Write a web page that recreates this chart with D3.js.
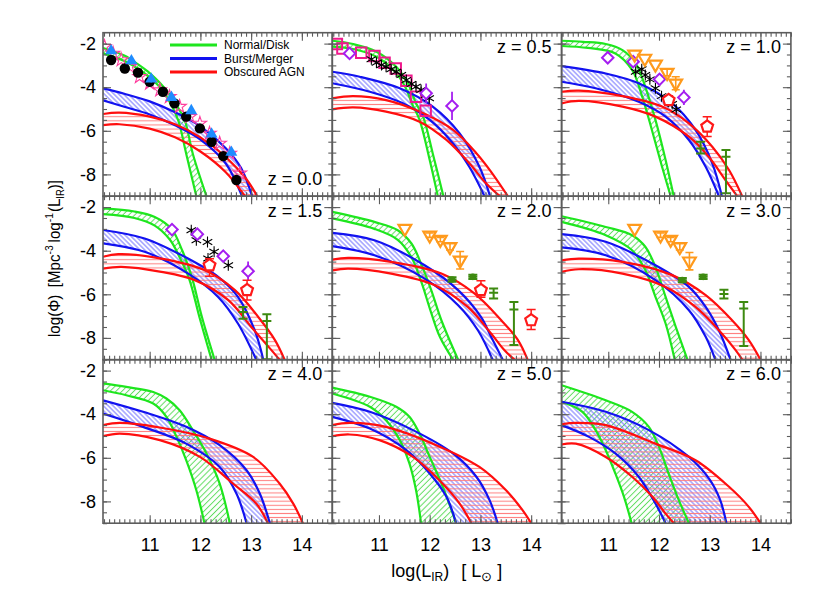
<!DOCTYPE html>
<html>
<head>
<meta charset="utf-8">
<script src="https://cdn.jsdelivr.net/npm/d3@7"></script>
<style>
  html, body { margin: 0; padding: 0; background: #fff; }
  svg { display: block; font-family: "Liberation Sans", Arial, Helvetica, sans-serif; }
</style>
</head>
<body>
<svg id="chart" width="822" height="590"></svg>
<script>
// - - - - - - - - - -
// data: [log L_IR, log Phi]
// - - - - - - - - - -
const zLabels = ['z = 0.0', 'z = 0.5', 'z = 1.0', 'z = 1.5', 'z = 2.0', 'z = 3.0', 'z = 4.0', 'z = 5.0', 'z = 6.0'];
const xTicks = [11, 12, 13, 14];
const yTicks = [-2, -4, -6, -8];
const legendNames = ['Normal/Disk', 'Burst/Merger', 'Obscured AGN'];

const diskHi = [
  [[10.08,-2.2],[10.5,-2.55],[10.8,-3.0],[11,-3.35],[11.2,-3.8],[11.4,-4.35],[11.55,-4.9],[11.69,-5.5],[11.85,-7.05],[12.12,-9]],
  [[10.08,-1.87],[10.49,-2.02],[10.95,-2.37],[11.34,-3.06],[11.57,-3.82],[11.73,-4.74],[11.87,-5.35],[12.06,-7.04],[12.27,-9]],
  [[10.08,-1.87],[10.5,-1.92],[10.95,-2.02],[11.28,-2.3],[11.54,-2.91],[11.73,-3.98],[11.93,-5.5],[12.13,-7.34],[12.29,-9]],
  [[10.08,-2.06],[10.7,-2.2],[11.1,-2.45],[11.43,-3.0],[11.64,-3.98],[11.83,-5.2],[12.03,-7.04],[12.28,-9]],
  [[10.08,-2.22],[10.91,-2.68],[11.37,-3.06],[11.64,-3.67],[11.83,-4.59],[12.03,-5.81],[12.23,-7.19],[12.56,-9]],
  [[10.08,-2.42],[10.95,-2.91],[11.47,-3.29],[11.73,-3.82],[11.93,-4.74],[12.13,-6.12],[12.33,-7.49],[12.56,-9]],
  [[10.08,-2.59],[10.54,-2.75],[11.07,-2.98],[11.33,-3.28],[11.59,-3.82],[11.85,-4.73],[12.12,-5.8],[12.38,-7.18],[12.58,-9]],
  [[10.08,-2.78],[10.82,-3.2],[11.34,-3.66],[11.6,-4.12],[11.8,-4.89],[12.0,-5.96],[12.26,-7.33],[12.52,-9]],
  [[10.08,-2.67],[10.95,-3.36],[11.47,-3.89],[11.8,-4.58],[12.0,-5.5],[12.19,-6.72],[12.39,-7.94],[12.59,-9]]
];
const diskLo = [
  [[10.08,-2.45],[10.5,-2.8],[10.8,-3.2],[11,-3.55],[11.2,-4.0],[11.4,-4.7],[11.56,-5.5],[11.72,-7.05],[11.92,-9]],
  [[10.08,-2.14],[10.49,-2.25],[10.95,-2.6],[11.3,-3.25],[11.52,-4.0],[11.66,-4.8],[11.8,-5.5],[12.0,-7.34],[12.16,-9]],
  [[10.08,-2.11],[10.6,-2.2],[11.14,-2.45],[11.47,-3.21],[11.67,-4.44],[11.86,-5.96],[12.06,-7.65],[12.23,-9]],
  [[10.08,-2.32],[10.7,-2.5],[11.1,-2.85],[11.4,-3.5],[11.6,-4.35],[11.78,-5.3],[11.98,-7.04],[12.22,-9]],
  [[10.08,-2.52],[10.91,-3.0],[11.37,-3.5],[11.64,-4.3],[11.83,-5.4],[12.03,-6.85],[12.2,-7.95],[12.46,-9]],
  [[10.08,-2.68],[10.95,-3.29],[11.47,-3.98],[11.73,-4.89],[11.93,-6.12],[12.13,-7.34],[12.31,-9]],
  [[10.08,-2.9],[10.54,-3.13],[11.07,-3.51],[11.33,-4.12],[11.53,-5.04],[11.72,-6.11],[11.92,-7.49],[12.08,-9]],
  [[10.08,-3.05],[10.82,-3.66],[11.14,-4.28],[11.41,-5.19],[11.6,-6.26],[11.73,-7.48],[11.83,-9]],
  [[10.08,-3.43],[10.49,-3.89],[10.75,-4.73],[10.95,-5.65],[11.14,-6.72],[11.31,-7.79],[11.46,-9]]
];

const burstHi = [
  [[10.08,-4.05],[10.5,-4.3],[11,-4.65],[11.5,-5.15],[12,-5.8],[12.5,-6.8],[12.8,-7.7],[13.02,-9]],
  [[10.08,-3.29],[10.62,-3.52],[11.41,-4.05],[12.06,-4.89],[12.59,-6.12],[12.98,-7.65],[13.19,-9]],
  [[10.08,-3.03],[10.95,-3.37],[11.6,-3.82],[12.26,-4.74],[12.72,-5.96],[13.05,-7.49],[13.24,-9]],
  [[10.08,-3.05],[10.9,-3.44],[11.69,-4.28],[12.35,-5.2],[12.74,-6.12],[13.07,-7.65],[13.24,-9]],
  [[10.08,-3.18],[10.91,-3.52],[11.9,-4.67],[12.56,-5.81],[13.01,-7.04],[13.21,-7.95],[13.44,-9]],
  [[10.08,-3.24],[10.95,-3.59],[11.93,-4.67],[12.59,-5.66],[12.92,-6.58],[13.18,-7.65],[13.41,-9]],
  [[10.08,-3.36],[10.87,-3.89],[11.72,-4.58],[12.38,-5.42],[12.91,-6.57],[13.17,-7.64],[13.37,-9]],
  [[10.08,-3.48],[10.82,-3.89],[11.67,-4.73],[12.46,-5.8],[12.92,-6.87],[13.18,-7.94],[13.34,-9]],
  [[10.08,-3.43],[10.95,-3.89],[11.8,-4.73],[12.59,-5.96],[13.0,-7.0],[13.2,-7.9],[13.33,-9]]
];
const burstLo = [
  [[10.08,-4.6],[10.5,-4.9],[11,-5.25],[11.5,-5.75],[12,-6.4],[12.5,-7.5],[12.82,-9]],
  [[10.08,-3.82],[10.82,-4.21],[11.47,-4.74],[12.0,-5.5],[12.46,-6.58],[12.78,-7.65],[13.08,-9]],
  [[10.08,-3.75],[10.75,-4.05],[11.6,-4.67],[12.13,-5.35],[12.59,-6.42],[12.92,-7.65],[13.18,-9]],
  [[10.08,-3.66],[10.9,-4.05],[11.76,-5.05],[12.35,-6.12],[12.74,-7.34],[13.1,-9]],
  [[10.08,-3.79],[10.91,-4.21],[11.9,-5.28],[12.56,-6.5],[12.95,-7.65],[13.24,-9]],
  [[10.08,-3.85],[10.95,-4.21],[11.93,-5.35],[12.59,-6.73],[12.92,-7.95],[13.11,-9]],
  [[10.08,-3.97],[10.87,-4.58],[11.72,-5.35],[12.38,-6.42],[12.71,-7.64],[12.91,-9]],
  [[10.08,-4.12],[10.82,-4.66],[11.54,-5.65],[12.0,-6.72],[12.33,-7.79],[12.52,-9]],
  [[10.08,-4.5],[10.62,-5.04],[11.14,-5.8],[11.6,-6.87],[11.93,-8.1],[12.13,-9]]
];

const agnHi = [
  [[10.08,-5.23],[10.4,-5.17],[11,-5.35],[11.5,-5.7],[12,-6.3],[12.5,-7.2],[12.9,-8.2],[13.12,-9]],
  [[10.08,-4.51],[10.49,-4.41],[11.14,-4.59],[11.8,-5.12],[12.46,-5.96],[12.92,-7.03],[13.2,-7.85],[13.54,-9]],
  [[10.08,-4.21],[10.42,-4.16],[11.28,-4.41],[12.06,-4.89],[12.59,-5.66],[13.05,-6.73],[13.38,-7.8],[13.64,-9]],
  [[10.08,-4.28],[10.38,-4.16],[11.23,-4.36],[12.08,-4.89],[12.68,-5.81],[13.14,-7.04],[13.47,-8.1],[13.66,-9]],
  [[10.08,-4.41],[10.39,-4.33],[11.24,-4.51],[12.23,-5.05],[12.88,-5.96],[13.41,-7.19],[13.74,-8.1],[13.93,-9]],
  [[10.08,-4.44],[10.42,-4.36],[11.28,-4.51],[12.26,-5.12],[12.92,-6.04],[13.44,-7.19],[13.77,-8.1],[14.0,-9]],
  [[10.08,-4.5],[10.41,-4.4],[11.2,-4.61],[12.18,-5.12],[13.04,-5.96],[13.56,-7.18],[13.83,-8.1],[14.02,-9]],
  [[10.08,-4.5],[10.42,-4.4],[11.14,-4.58],[12.13,-5.42],[12.98,-6.42],[13.5,-7.48],[13.83,-8.4],[14.0,-9]],
  [[10.08,-4.46],[10.36,-4.4],[10.95,-4.5],[11.93,-5.35],[12.72,-6.11],[13.38,-7.33],[13.77,-8.25],[14.0,-9]]
];
const agnLo = [
  [[10.08,-5.74],[10.4,-5.7],[11,-5.9],[11.5,-6.3],[12,-6.95],[12.5,-7.9],[12.88,-9]],
  [[10.08,-5.02],[10.49,-4.93],[11.14,-5.12],[11.8,-5.58],[12.33,-6.42],[12.78,-7.49],[13.11,-8.41],[13.38,-9]],
  [[10.08,-4.74],[10.42,-4.63],[11.28,-4.89],[11.93,-5.35],[12.59,-6.27],[12.98,-7.19],[13.31,-8.26],[13.54,-9]],
  [[10.08,-4.82],[10.44,-4.74],[11.23,-4.97],[11.89,-5.35],[12.55,-6.27],[13.0,-7.49],[13.4,-8.56],[13.56,-9]],
  [[10.08,-4.9],[10.39,-4.82],[11.24,-5.05],[12.1,-5.58],[12.75,-6.58],[13.21,-7.8],[13.47,-8.56],[13.67,-9]],
  [[10.08,-4.97],[10.42,-4.85],[11.28,-5.05],[12.13,-5.66],[12.72,-6.58],[13.18,-7.65],[13.51,-8.56],[13.64,-9]],
  [[10.08,-5.01],[10.41,-4.89],[11.2,-5.19],[11.99,-5.96],[12.64,-7.18],[13.1,-8.1],[13.33,-9]],
  [[10.08,-5.01],[10.42,-4.93],[11.01,-5.19],[11.67,-5.96],[12.19,-7.03],[12.59,-8.1],[12.82,-9]],
  [[10.08,-5.39],[10.36,-5.35],[10.95,-5.96],[11.47,-6.87],[11.87,-7.79],[12.13,-8.56],[12.29,-9]]
];

// observed points
const circlesZ0 = [[10.24,-2.75],[10.51,-3.14],[10.77,-3.33],[11.0,-3.75],[11.26,-4.21],[11.49,-4.74],
  [11.72,-5.35],[11.99,-5.89],[12.22,-6.5],[12.45,-7.16],[12.71,-8.26]];
const trianglesZ0 = [[10.24,-2.37],[10.64,-2.83],[11.03,-3.67],[11.43,-4.51],[11.82,-5.12],[12.22,-6.19],[12.61,-7.03]];
const starsZ0 = [[10.11,-2.14],[10.28,-2.45],[10.44,-2.75],[10.61,-3.06],[10.8,-3.52],[11.0,-3.82],[11.2,-4.13],
  [11.39,-4.44],[11.59,-4.89],[11.79,-5.35],[11.99,-5.66],[12.18,-6.12],[12.38,-6.58],[12.58,-7.04],[12.78,-7.95]];
const squaresZ05 = [[10.17,-2.02],[10.28,-2.22],[10.65,-2.42],[10.91,-2.57],[11.11,-2.88],[11.33,-3.14],
  [11.54,-3.7],[11.73,-4.44],[11.92,-5.08]];
// [panel, logL, logPhi, error]
const asteriskPts = [
  [1,10.85,-2.72,0.1],[1,10.95,-2.88,0.1],[1,11.05,-2.98,0.1],[1,11.14,-3.06,0.1],[1,11.24,-3.18,0.1],
  [1,11.34,-3.29,0.1],[1,11.44,-3.44,0.1],[1,11.54,-3.67,0.12],[1,11.64,-3.85,0.12],[1,11.73,-3.98,0.12],
  [1,11.83,-4.13,0.15],[1,11.92,-4.36,0.2],[1,11.99,-4.51,0.2],
  [2,11.54,-3.29,0.12],[2,11.66,-3.18,0.12],[2,11.73,-3.44,0.12],[2,11.82,-3.64,0.12],[2,11.93,-4.05,0.12],
  [2,12.05,-4.41,0.12],[2,12.19,-4.67,0.12],[2,12.26,-4.77,0.12],[2,12.34,-5.02,0.12],
  [3,11.82,-3.06,0.1],[3,11.92,-3.52,0.1],[3,12.14,-3.6,0.1],[3,12.27,-4.05,0.1],[3,12.15,-4.36,0.1],[3,12.55,-4.67,0.1]
];
const diamondPts = [
  [1,10.42,-2.45,0.2],[1,11.93,-4.28,0.45],[1,12.44,-4.86,0.65],
  [2,10.99,-2.65,0.2],[2,11.49,-2.83,0.15],[2,12.01,-3.64,0.2],[2,12.49,-4.47,0.35],
  [3,11.44,-3.03,0.25],[3,11.94,-3.24,0.2],[3,12.45,-4.25,0.25],[3,12.94,-4.94,0.45]
];
const orangePts = [
  [2,11.52,-2.49,0],[2,11.72,-2.68,0],[2,11.93,-2.95,0],[2,12.16,-3.33,0.15],[2,12.33,-3.82,0.3],
  [4,11.51,-2.98,0],[4,12.0,-3.29,0.1],[4,12.21,-3.49,0.1],[4,12.4,-3.82,0.15],[4,12.6,-4.44,0.4],
  [5,11.52,-2.98,0],[5,12.03,-3.29,0.1],[5,12.23,-3.49,0.1],[5,12.41,-3.82,0.15],[5,12.6,-4.48,0.4]
];
// [panel, logL, logPhi, error up, error down]
const pentagonPts = [
  [2,12.19,-4.59,0.2,0.2],[2,12.95,-5.81,0.45,0.45],
  [3,12.18,-4.67,0.3,0.5],[3,12.92,-5.81,0.45,0.45],
  [4,13.01,-5.81,0.43,0.33],[4,14.0,-7.19,0.49,0.43]
];
const greenBarPts = [
  [2,12.82,-6.81,0.31,0.23],[2,13.32,-7.19,0.31,1.68],
  [3,12.84,-6.81,0.23,0.31],[3,13.31,-7.23,0.32,1.75],
  [4,12.44,-5.32,0.1,0.1],[4,12.85,-5.2,0.1,0.1],[4,13.26,-5.93,0.2,0.26],[4,13.66,-6.7,0.35,1.63],
  [5,12.46,-5.35,0.1,0.1],[5,12.87,-5.2,0.1,0.1],[5,13.28,-5.99,0.2,0.2],[5,13.67,-6.65,0.3,1.72]
];

// - - - - - - - - - -
// layout
// - - - - - - - - - -
const left0 = 103, top0 = 32.7, pw = 229.3, ph = 163.5;
const frameColor = '#5c5c5c';
const comp = [
  { hi: diskHi,  lo: diskLo,  line: '#1ee61e', hatch: '#5fdc5f', id: 'hDisk',  angle: -45, gap: 4.2 },
  { hi: burstHi, lo: burstLo, line: '#1212f0', hatch: '#7272ff', id: 'hBurst', angle: 45,  gap: 3.4 },
  { hi: agnHi,   lo: agnLo,   line: '#ff0e0e', hatch: '#ff7a7a', id: 'hAgn',   angle: 0,   gap: 4.1 }
];

const x = d3.scaleLinear().domain([10.08, 14.6]).range([0, pw]);
const y = d3.scaleLinear().domain([-9, -1.5]).range([ph, 0]);
const xMinor = d3.range(101, 147).map(d => d / 10);
const yMinor = d3.range(-9, -1.5, 0.5);

const svg = d3.select('#chart');
const defs = svg.append('defs');

defs.append('clipPath').attr('id', 'panelClip')
  .append('rect').attr('width', pw).attr('height', ph);

comp.forEach(c => {
  const p = defs.append('pattern').attr('id', c.id)
    .attr('patternUnits', 'userSpaceOnUse')
    .attr('width', 10).attr('height', c.gap)
    .attr('patternTransform', `rotate(${c.angle})`);
  p.append('line').attr('x1', 0).attr('x2', 10)
    .attr('y1', c.gap / 2).attr('y2', c.gap / 2)
    .attr('stroke', c.hatch).attr('stroke-width', 1);
});

const lineGen = d3.line().x(d => x(d[0])).y(d => y(d[1])).curve(d3.curveCatmullRom.alpha(0.5));

function bandPath(hi, lo) {
  const hiEnd = hi[hi.length - 1], loEnd = lo[lo.length - 1];
  return lineGen(hi) +
    `L${x(hiEnd[0])},${y(-10)}L${x(loEnd[0])},${y(-10)}` +
    lineGen([...lo].reverse()).replace(/^M/, 'L') + 'Z';
}

const sym = (type, size) => d3.symbol().type(type).size(size)();
const pentagon = r => d3.line()(d3.range(5).map(i => {
  const a = -Math.PI / 2 + i * 2 * Math.PI / 5;
  return [r * Math.cos(a), r * Math.sin(a)];
})) + 'Z';
const asterisk = r => {
  let s = '';
  [90, 30, 150].forEach(a => {
    const dx = r * Math.cos(a * Math.PI / 180), dy = r * Math.sin(a * Math.PI / 180);
    s += `M${-dx},${-dy}L${dx},${dy}`;
  });
  return s;
};

function errBar(g, lx, ly, up, dn, color, cap, width) {
  const px = x(lx);
  g.append('line').attr('x1', px).attr('x2', px)
    .attr('y1', y(ly + up)).attr('y2', y(ly - dn))
    .attr('stroke', color).attr('stroke-width', width);
  if (cap > 0) {
    [ly + up, ly - dn].forEach(v => {
      g.append('line').attr('x1', px - cap).attr('x2', px + cap)
        .attr('y1', y(v)).attr('y2', y(v))
        .attr('stroke', color).attr('stroke-width', width);
    });
  }
}

function marker(g, lx, ly, path, fill, stroke, sw, rot) {
  g.append('path').attr('d', path)
    .attr('transform', `translate(${x(lx)},${y(ly)})` + (rot ? ` rotate(${rot})` : ''))
    .attr('fill', fill).attr('stroke', stroke).attr('stroke-width', sw);
}

zLabels.forEach((label, i) => {
  const col = i % 3, row = Math.floor(i / 3);
  const g = svg.append('g')
    .attr('transform', `translate(${left0 + col * pw},${top0 + row * ph})`);

  const inner = g.append('g').attr('clip-path', 'url(#panelClip)');

  // hatched bands
  comp.forEach(c => {
    inner.append('path').attr('d', bandPath(c.hi[i], c.lo[i]))
      .attr('fill', `url(#${c.id})`).attr('stroke', 'none');
  });
  comp.forEach(c => {
    [c.hi[i], c.lo[i]].forEach(pts => {
      inner.append('path').attr('d', lineGen(pts))
        .attr('fill', 'none').attr('stroke', c.line).attr('stroke-width', 2.2);
    });
  });

  // observations
  if (i === 0) {
    starsZ0.forEach(d => marker(inner, d[0], d[1], sym(d3.symbolStar, 56), 'none', '#ff3d9e', 1.1));
    circlesZ0.forEach(d => marker(inner, d[0], d[1], sym(d3.symbolCircle, 85), '#000', 'none', 0));
    trianglesZ0.forEach(d => {
      errBar(inner, d[0], d[1], 0.12, 0.12, '#1e8cff', 0, 1.2);
      marker(inner, d[0], d[1] + 0.04, sym(d3.symbolTriangle, 62), '#1e8cff', 'none', 0);
    });
  }
  if (i === 1) {
    squaresZ05.forEach(d => marker(inner, d[0], d[1], sym(d3.symbolSquare, 110), 'none', '#f0188c', 2));
  }
  asteriskPts.filter(d => d[0] === i).forEach(d => {
    errBar(inner, d[1], d[2], d[3], d[3], '#000', 0, 1);
    marker(inner, d[1], d[2], asterisk(5.5), 'none', '#000', 1.1);
  });
  diamondPts.filter(d => d[0] === i).forEach(d => {
    errBar(inner, d[1], d[2], d[3], d[3], '#a51ff0', 0, 1.8);
    marker(inner, d[1], d[2], sym(d3.symbolSquare, 66), '#fff', '#a51ff0', 2, 45);
  });
  orangePts.filter(d => d[0] === i).forEach(d => {
    if (d[3] > 0) errBar(inner, d[1], d[2], d[3], d[3], '#ff9a1c', 4, 1.6);
    marker(inner, d[1], d[2], sym(d3.symbolTriangle, 70), 'none', '#ff9a1c', 2.2, 180);
  });
  pentagonPts.filter(d => d[0] === i).forEach(d => {
    errBar(inner, d[1], d[2], d[3], d[4], '#ff1a1a', 4.5, 1.5);
    marker(inner, d[1], d[2], pentagon(6.2), '#fff', '#ff1a1a', 2.2);
  });
  greenBarPts.filter(d => d[0] === i).forEach(d => {
    errBar(inner, d[1], d[2], d[3], d[4], '#3d8a10', 4.5, 2);
    inner.append('line').attr('x1', x(d[1]) - 4.5).attr('x2', x(d[1]) + 4.5)
      .attr('y1', y(d[2])).attr('y2', y(d[2]))
      .attr('stroke', '#3d8a10').attr('stroke-width', 2);
    if (d[3] <= 0.1) {
      marker(inner, d[1], d[2], sym(d3.symbolCircle, 34), '#3d8a10', 'none', 0);
    }
  });

  // frame and ticks, all four sides, pointing in
  const axes = [
    [d3.axisBottom(x), `translate(0,${ph})`, xMinor, xTicks],
    [d3.axisTop(x), 'translate(0,0)', xMinor, xTicks],
    [d3.axisLeft(y), 'translate(0,0)', yMinor, yTicks],
    [d3.axisRight(y), `translate(${pw},0)`, yMinor, yTicks]
  ];
  axes.forEach(([axis, tr, minor, major]) => {
    [[minor, -4], [major, -8]].forEach(([vals, size]) => {
      g.append('g').attr('transform', tr).attr('color', frameColor)
        .call(axis.tickValues(vals).tickSize(size).tickSizeOuter(0).tickFormat(''))
        .call(s => s.select('.domain').remove())
        .selectAll('line').attr('stroke-width', 1.1);
    });
  });
  g.append('rect').attr('width', pw).attr('height', ph)
    .attr('fill', 'none').attr('stroke', frameColor).attr('stroke-width', 1.6);

  // tick labels on the outer panels
  if (col === 0) {
    g.append('g')
      .call(d3.axisLeft(y).tickValues(yTicks).tickSize(0).tickPadding(7).tickFormat(d => String(d)))
      .call(s => s.select('.domain').remove())
      .selectAll('text').attr('font-size', 18).attr('font-family', null).attr('fill', '#000');
  }
  if (row === 2) {
    g.append('g').attr('transform', `translate(0,${ph})`)
      .call(d3.axisBottom(x).tickValues(xTicks).tickSize(0).tickPadding(15).tickFormat(d => String(d)))
      .call(s => s.select('.domain').remove())
      .selectAll('text').attr('font-size', 18).attr('font-family', null).attr('fill', '#000');
  }

  // redshift label
  g.append('text')
    .attr('x', pw - 10).attr('y', i === 0 ? ph - 11 : 20.5)
    .attr('text-anchor', 'end').attr('font-size', 18).text(label);

  // legend
  if (i === 0) {
    legendNames.forEach((name, k) => {
      const ly = 12.2 + k * 13.5;
      g.append('line').attr('x1', 67).attr('x2', 114).attr('y1', ly).attr('y2', ly)
        .attr('stroke', comp[k].line).attr('stroke-width', 3);
      g.append('text').attr('x', 121).attr('y', ly + 4.2)
        .attr('font-size', 12).text(name);
    });
  }
});

// axis titles
const yTitle = svg.append('text')
  .attr('transform', 'translate(60,258.5) rotate(-90)')
  .attr('text-anchor', 'middle').attr('font-size', 16)
  .attr('textLength', 157).attr('lengthAdjust', 'spacingAndGlyphs');
yTitle.append('tspan').text('log(Φ)');
yTitle.append('tspan').attr('dx', 8).text('[Mpc');
yTitle.append('tspan').attr('font-size', 11).attr('dy', -7).text('-3');
yTitle.append('tspan').attr('dy', 7).attr('dx', 3).text('log');
yTitle.append('tspan').attr('font-size', 11).attr('dy', -7).text('-1');
yTitle.append('tspan').attr('dy', 7).attr('dx', 1).text('(L');
yTitle.append('tspan').attr('font-size', 10).attr('dy', 4).text('IR');
yTitle.append('tspan').attr('dy', -4).text(')]');

const xTitle = svg.append('text')
  .attr('x', 446.7).attr('y', 576.7)
  .attr('text-anchor', 'middle').attr('font-size', 18);
xTitle.append('tspan').text('log(L');
xTitle.append('tspan').attr('font-size', 12).attr('dy', 4).text('IR');
xTitle.append('tspan').attr('dy', -4).text(')');
xTitle.append('tspan').attr('dx', 12).text('[ L');
xTitle.append('tspan').attr('font-size', 13).attr('dy', 4).text('⊙');
xTitle.append('tspan').attr('dy', -4).text(' ]');
</script>
</body>
</html>
